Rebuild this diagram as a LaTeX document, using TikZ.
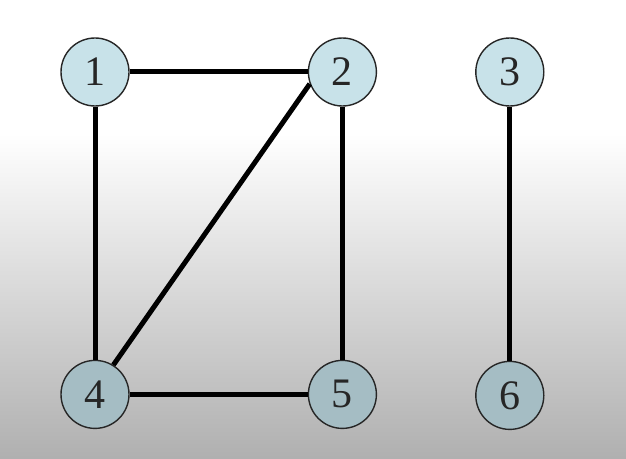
\documentclass[tikz,border=0pt]{standalone}
\usepackage{fontspec}
\setmainfont{Liberation Serif}
\usetikzlibrary{positioning}

\definecolor{vertexlight}{RGB}{200,226,233}
\definecolor{vertexdark}{RGB}{165,189,196}
\definecolor{shadegray}{RGB}{176,176,176}

\begin{document}
\begin{tikzpicture}[
    x=1pt, y=1pt,
    node distance=178pt and 178pt,
    vertex/.style={circle, draw=black!85, line width=1.4pt, minimum size=68pt, inner sep=0pt, text=black!85, font=\fontsize{42}{42}\selectfont},
    upper/.style={vertex, fill=vertexlight},
    lower/.style={vertex, fill=vertexdark},
    link/.style={line width=5pt, black}
]

% Background
\fill[white] (0,325) rectangle (626,458);
\shade[top color=white, bottom color=shadegray] (0,0) rectangle (626,325);
\useasboundingbox (0,0) rectangle (626,458);

% Top row
\node (n1) [upper] at (95,386) {1};
\node (n2) [upper, right=178pt of n1] {2};
\node (n3) [upper, right=98pt of n2] {3};

% Bottom row
\node (n4) [lower, below=253pt of n1] {4};
\node (n5) [lower, below=253pt of n2] {5};
\node (n6) [lower, below=254pt of n3] {6};

% Edges
\draw [link] (n1) -- (n2);
\draw [link] (n1) -- (n4);
\draw [link] (n2) -- (n5);
\draw [link] (n2.200) -- (n4.58);
\draw [link] (n4) -- (n5);
\draw [link] (n3) -- (n6);

\end{tikzpicture}
\end{document}
